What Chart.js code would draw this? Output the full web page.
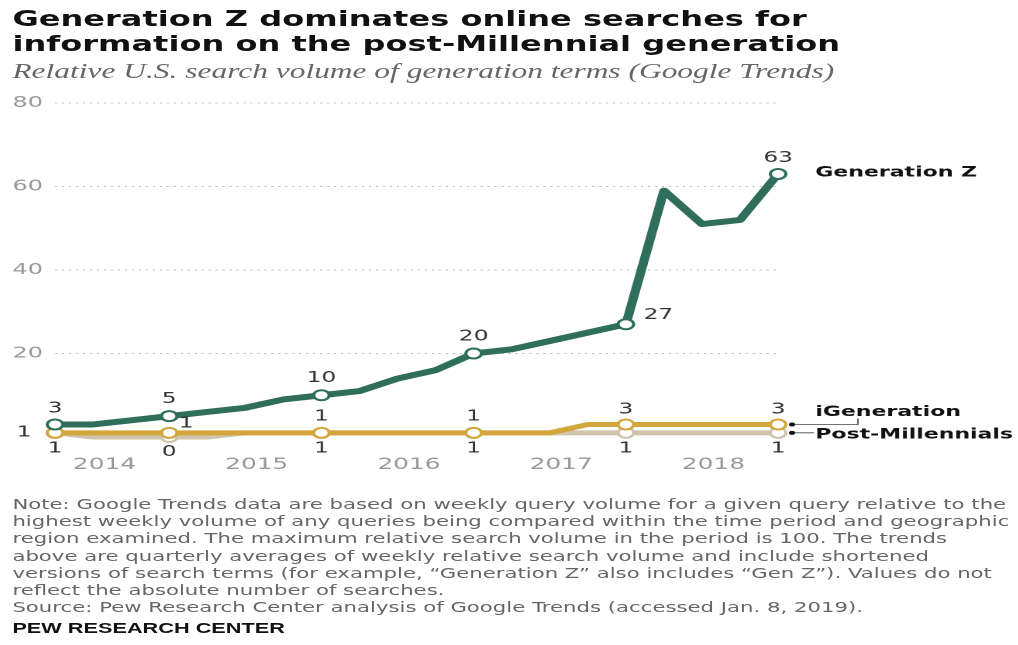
<!DOCTYPE html>
<html>
<head>
<meta charset="utf-8">
<script src="https://cdn.jsdelivr.net/npm/chart.js@4.4.0/dist/chart.umd.js"></script>
<style>
  html, body { margin: 0; padding: 0; background: #fff; width: 1018px; height: 645px; overflow: hidden; }
  /* the reference is stretched sideways, so the whole page is drawn narrow and scaled in x */
  #page { position: absolute; left: 0; top: 0; width: 657px; height: 645px; transform: scaleX(1.55); transform-origin: 0 0; }
  .title { position: absolute; left: 8px; top: 7px; font: bold 20.7px/25px "DejaVu Sans", sans-serif; color: #111; white-space: nowrap; }
  .subtitle { position: absolute; left: 8px; top: 60px; font: italic 20.3px/22px "Liberation Serif", serif; color: #666; white-space: nowrap; }
  #chart-wrap { position: absolute; left: 0; top: 90px; width: 657px; height: 400px; }
  .note { position: absolute; left: 8px; top: 496px; font: 13.7px/17.2px "DejaVu Sans", sans-serif; color: #666; white-space: nowrap; }
  .brand { position: absolute; left: 8px; top: 620px; font: bold 14px/16px "Liberation Sans", Arial, sans-serif; color: #111; }
</style>
</head>
<body>
<div id="page">
  <div class="title">Generation Z dominates online searches for<br>information on the post-Millennial generation</div>
  <div class="subtitle">Relative U.S. search volume of generation terms (Google Trends)</div>
  <div id="chart-wrap"><canvas id="chart" width="657" height="400"></canvas></div>
  <div class="note">Note: Google Trends data are based on weekly query volume for a given query relative to the<br>highest weekly volume of any queries being compared within the time period and geographic<br>region examined. The maximum relative search volume in the period is 100. The trends<br>above are quarterly averages of weekly relative search volume and include shortened<br>versions of search terms (for example, “Generation Z” also includes “Gen Z”). Values do not<br>reflect the absolute number of searches.<br>Source: Pew Research Center analysis of Google Trends (accessed Jan. 8, 2019).</div>
  <div class="brand">PEW RESEARCH CENTER</div>
</div>

<script>
// quarterly data, 2014 Q1 .. 2018 Q4
const quarters = [
  '2014 Q1', '2014 Q2', '2014 Q3', '2014 Q4',
  '2015 Q1', '2015 Q2', '2015 Q3', '2015 Q4',
  '2016 Q1', '2016 Q2', '2016 Q3', '2016 Q4',
  '2017 Q1', '2017 Q2', '2017 Q3', '2017 Q4',
  '2018 Q1', '2018 Q2', '2018 Q3', '2018 Q4'
];
const years = ['2014', '2015', '2016', '2017', '2018'];

const genZ =           [3, 3, 4, 5, 6, 7, 9, 10, 11, 14, 16, 20, 21, 23, 25, 27, 59, 51, 52, 63];
const iGeneration =    [1, 1, 1, 1, 1, 1, 1, 1, 1, 1, 1, 1, 1, 1, 3, 3, 3, 3, 3, 3];
const postMillennials = [1, 0, 0, 0, 0, 1, 1, 1, 1, 1, 1, 1, 1, 1, 1, 1, 1, 1, 1, 1];

const yTicks = [0, 20, 40, 60, 80];

// quarters that get a circle marker and a value label
const markedQuarters = [0, 3, 7, 11, 15, 19];

const GREEN = '#2f6e5b';
const GOLD = '#d2a63a';
const TAN = '#cdc4ab';

// where each value label sits relative to its point: [dx, dy]
const labelOffsets = {
  'Generation Z': { 0: [0, -16], 3: [0, -17], 7: [0, -17], 11: [0, -17], 15: [21, -9], 19: [0, -16] },
  'iGeneration': { 0: [-20, 0], 3: [11, -9], 7: [0, -16], 11: [0, -16], 15: [0, -15], 19: [0, -15] },
  'Post-Millennials': { 0: [0, 16], 3: [0, 15], 7: [0, 16], 11: [0, 16], 15: [0, 16], 19: [0, 16] }
};

const toPoints = arr => arr.map((v, i) => ({ x: i, y: v }));
const markerRadius = ctx => markedQuarters.includes(ctx.dataIndex) ? 5 : 0;

const valueLabels = {
    id: 'valueLabels',
    afterDatasetsDraw(chart) {
        const ctx = chart.ctx;
        ctx.save();
        ctx.font = '15px "DejaVu Sans", sans-serif';
        ctx.fillStyle = '#333';
        ctx.textAlign = 'center';
        ctx.textBaseline = 'middle';
        chart.data.datasets.forEach((ds, di) => {
            const meta = chart.getDatasetMeta(di);
            const offsets = labelOffsets[ds.label] || {};
            Object.keys(offsets).forEach(idx => {
                const pt = meta.data[idx];
                const off = offsets[idx];
                ctx.fillText(String(ds.data[idx].y), pt.x + off[0], pt.y + off[1]);
            });
        });
        ctx.restore();
    }
};

const seriesNames = {
    id: 'seriesNames',
    afterDatasetsDraw(chart) {
        const ctx = chart.ctx;
        const lastIdx = quarters.length - 1;
        const gz = chart.getDatasetMeta(0).data[lastIdx];
        const ig = chart.getDatasetMeta(1).data[lastIdx];
        const pm = chart.getDatasetMeta(2).data[lastIdx];
        const tx = chart.chartArea.right + 24;

        ctx.save();
        ctx.font = 'bold 14.2px "DejaVu Sans", sans-serif';
        ctx.fillStyle = '#111';
        ctx.textAlign = 'left';
        ctx.textBaseline = 'middle';
        ctx.fillText('Generation Z', tx, gz.y - 1);
        ctx.fillText('iGeneration', tx, ig.y - 12);
        ctx.fillText('Post-Millennials', tx, pm.y + 2);

        // leader lines
        ctx.strokeStyle = '#444';
        ctx.lineWidth = 0.8;
        ctx.beginPath();
        ctx.moveTo(ig.x + 9, ig.y);
        ctx.lineTo(ig.x + 51.5, ig.y);
        ctx.lineTo(ig.x + 51.5, ig.y - 6);
        ctx.moveTo(pm.x + 9, pm.y);
        ctx.lineTo(tx - 1, pm.y);
        ctx.stroke();

        ctx.fillStyle = '#111';
        [ig, pm].forEach(p => {
            ctx.beginPath();
            ctx.arc(p.x + 9, p.y, 2, 0, Math.PI * 2);
            ctx.fill();
        });
        ctx.restore();
    }
};

const ctx = document.getElementById('chart').getContext('2d');
const chart = new Chart(ctx, {
    type: 'line',
    data: {
        datasets: [
            {
                label: 'Generation Z',
                data: toPoints(genZ),
                borderColor: GREEN,
                borderWidth: 6,
                pointRadius: markerRadius,
                pointBackgroundColor: '#fff',
                pointBorderColor: GREEN,
                pointBorderWidth: 2,
                order: 0
            },
            {
                label: 'iGeneration',
                data: toPoints(iGeneration),
                borderColor: GOLD,
                borderWidth: 5,
                pointRadius: markerRadius,
                pointBackgroundColor: '#fff',
                pointBorderColor: GOLD,
                pointBorderWidth: 2,
                order: 1
            },
            {
                label: 'Post-Millennials',
                data: toPoints(postMillennials),
                borderColor: TAN,
                borderWidth: 5,
                pointRadius: markerRadius,
                pointBackgroundColor: '#fff',
                pointBorderColor: TAN,
                pointBorderWidth: 2,
                order: 2
            }
        ]
    },
    options: {
        responsive: false,
        devicePixelRatio: 2,
        animation: false,
        events: [],
        datasets: {
            line: { tension: 0, clip: false, borderJoinStyle: 'round', borderCapStyle: 'round', pointHoverRadius: 0 }
        },
        layout: {
            padding: { left: 8, right: 155, top: 13, bottom: 0 }
        },
        plugins: {
            legend: { display: false },
            tooltip: { enabled: false }
        },
        scales: {
            x: {
                type: 'linear',
                min: 0,
                max: quarters.length - 1,
                grid: { display: false, drawTicks: false },
                border: { display: false },
                afterBuildTicks: scale => {
                    // year label sits in the middle of its four quarters
                    scale.ticks = years.map((y, i) => ({ value: i * 4 + 1.3 }));
                },
                afterFit: scale => { scale.height = 53; },
                ticks: {
                    autoSkip: false,
                    maxRotation: 0,
                    padding: 18,
                    color: '#999',
                    font: { family: '"DejaVu Sans", sans-serif', size: 16 },
                    callback: (v, i) => years[i]
                }
            },
            y: {
                min: yTicks[0],
                max: yTicks[yTicks.length - 1],
                afterBuildTicks: scale => {
                    scale.ticks = yTicks.map(v => ({ value: v }));
                },
                afterFit: scale => { scale.width = 27.5; },
                grid: {
                    drawTicks: false,
                    lineWidth: 1,
                    color: c => c.tick && c.tick.value === 0 ? 'rgba(0,0,0,0)' : '#c4c4c4'
                },
                border: { display: false, dash: [1.5, 3] },
                ticks: {
                    crossAlign: 'far',
                    padding: 0,
                    color: '#999',
                    font: { family: '"DejaVu Sans", sans-serif', size: 15.5 },
                    callback: v => v === 0 ? '' : v
                }
            }
        }
    },
    plugins: [valueLabels, seriesNames]
});
</script>
</body>
</html>
